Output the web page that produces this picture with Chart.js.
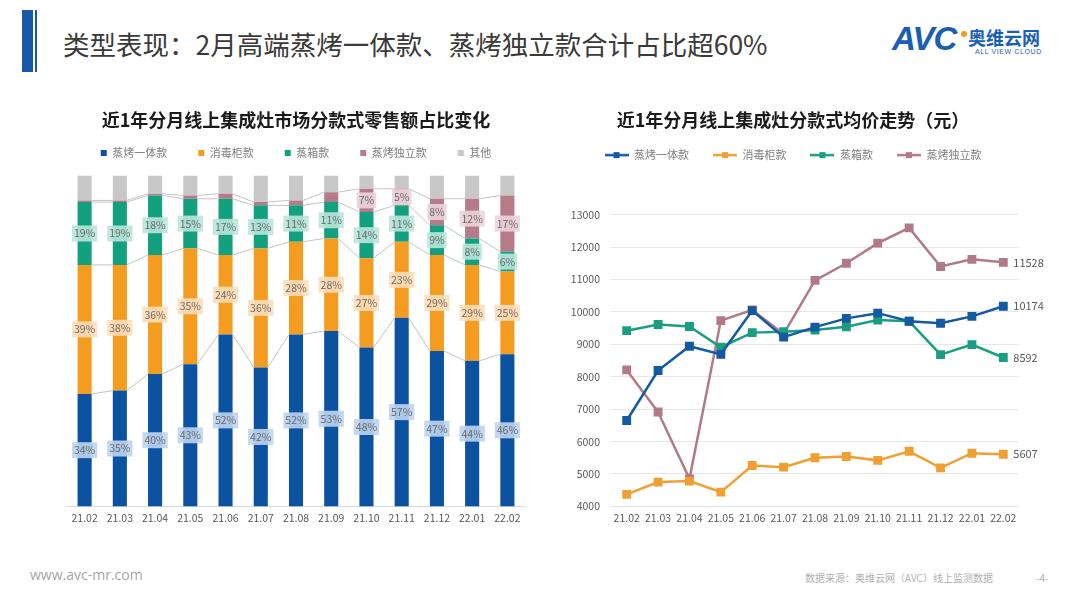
<!DOCTYPE html>
<html>
<head>
<meta charset="utf-8">
<script src="https://cdn.jsdelivr.net/npm/chart.js@4.4.1/dist/chart.umd.min.js"></script>
<style>
body{margin:0;width:1080px;height:608px;background:#fff;position:relative;overflow:hidden;font-family:"Noto Sans CJK SC","Noto Sans",sans-serif;}
.side-bar{position:absolute;left:22px;top:10px;width:11px;height:62px;background:#1759a6;}
.side-line{position:absolute;left:35px;top:10px;width:2px;height:62px;background:#1759a6;}
.page-title{position:absolute;left:63px;top:26px;font-size:26.5px;line-height:36px;color:#3a3a3a;white-space:nowrap;}
.logo{position:absolute;left:892px;top:22px;height:36px;}
.logo .avc{position:absolute;left:0;top:-2px;font-family:"Liberation Sans",sans-serif;font-weight:bold;font-style:italic;font-size:33px;color:#1a5fb4;letter-spacing:-1px;}
.logo .dot{position:absolute;left:69px;top:9px;width:6px;height:6px;border-radius:50%;background:#f29a1e;}
.logo .cn{position:absolute;left:76px;top:2px;font-size:18px;font-weight:bold;color:#1a5fb4;white-space:nowrap;}
.logo .en{position:absolute;left:83px;top:26px;font-size:7px;color:#1a5fb4;white-space:nowrap;letter-spacing:0.6px;font-family:"Liberation Sans",sans-serif;}
.box{position:absolute;}
.footer-l{position:absolute;left:30px;top:565px;font-size:14px;color:#a6a6a6;font-family:"Open Sans",sans-serif;}
.footer-r{position:absolute;left:805px;top:570px;font-size:10px;color:#b0b0b0;white-space:nowrap;}
.footer-p{position:absolute;left:1036px;top:570px;font-size:10px;color:#b0b0b0;}
</style>
</head>
<body>
<div class="side-bar"></div><div class="side-line"></div>
<div class="page-title">类型表现：2月高端蒸烤一体款、蒸烤独立款合计占比超60%</div>
<div class="logo"><span class="avc">AVC</span><span class="dot"></span><span class="cn">奥维云网</span><span class="en">ALL VIEW CLOUD</span></div>

<div class="box" style="left:60px;top:100px;width:480px;height:435px;"><canvas id="shareChart"></canvas></div>
<div class="box" style="left:555px;top:100px;width:495px;height:435px;"><canvas id="priceChart"></canvas></div>

<div class="footer-l">www.avc-mr.com</div>
<div class="footer-r">数据来源：奥维云网（AVC）线上监测数据</div>
<div class="footer-p">-4-</div>

<script>
// 月份
const months = ['21.02','21.03','21.04','21.05','21.06','21.07','21.08','21.09','21.10','21.11','21.12','22.01','22.02'];
const seriesNames = ['蒸烤一体款','消毒柜款','蒸箱款','蒸烤独立款','其他'];

// 零售额占比 (%)
const shareSteamBake = [34,35,40,43,52,42,52,53,48,57,47,44,46];
const shareSterilizer = [39,38,36,35,24,36,28,28,27,23,29,29,25];
const shareSteamer = [19,19,18,15,17,13,11,11,14,11,9,8,6];
const shareIndependent = [0.5,0.5,0.5,1,1.5,1,1.5,3,7,5,8,12,17];
const shareOther = [7.5,7.5,5.5,6,5.5,8,7.5,5,4,4,7,7,6];

// 均价 (元)
const priceSteamBake = [6650,8190,8940,8690,10040,9220,9530,9800,9960,9710,9650,9860,10174];
const priceSterilizer = [4370,4750,4780,4440,5260,5210,5500,5540,5420,5700,5190,5640,5607];
const priceSteamer = [9420,9610,9550,8910,9360,9390,9440,9540,9750,9710,8680,8990,8592];
const priceIndependent = [8210,6910,4850,9730,10060,9320,10970,11500,12120,12590,11400,11620,11528];

const priceTicks = [4000,5000,6000,7000,8000,9000,10000,11000,12000,13000];

const barColors = ['#0b53a1','#f39c1f','#13a07e','#b57b89','#c8c8c8'];
const boxColors = ['rgba(190,212,238,0.9)','rgba(252,222,186,0.9)','rgba(186,229,218,0.9)','rgba(236,212,219,0.9)'];
const lineColors = ['#135aa2','#f0a032','#1a9e82','#b07a86'];

const FONT = '"Noto Sans CJK SC","Noto Sans",sans-serif';
Chart.defaults.font.family = FONT;
Chart.defaults.color = '#595959';

// ==============================================
// 图例下方留白
const legendGap = {
    id: 'legendGap',
    afterInit(chart, args, opts) {
        const legend = chart.legend;
        const fit = legend.fit;
        legend.fit = function () {
            fit.call(legend);
            legend.height += opts.extra || 0;
        };
    }
};

// ==============================================
// 柱子标签 + 系列线
const barLabels = {
    id: 'barLabels',
    afterDatasetsDraw(chart) {
        const ctx = chart.ctx;
        const n = chart.data.datasets.length;
        ctx.save();
        // series lines between bars
        ctx.strokeStyle = '#c4c4c4';
        ctx.lineWidth = 1;
        for (let d = 0; d < n - 1; d++) {
            const meta = chart.getDatasetMeta(d);
            ctx.beginPath();
            for (let i = 0; i < meta.data.length - 1; i++) {
                const a = meta.data[i], b = meta.data[i + 1];
                ctx.moveTo(a.x + a.width / 2, a.y);
                ctx.lineTo(b.x - b.width / 2, b.y);
            }
            ctx.stroke();
        }
        // value labels
        ctx.font = '10.5px ' + FONT;
        ctx.textAlign = 'center';
        ctx.textBaseline = 'middle';
        for (let d = 0; d < n - 1; d++) {
            const meta = chart.getDatasetMeta(d);
            const vals = chart.data.datasets[d].data;
            meta.data.forEach((el, i) => {
                if (vals[i] < 5) return;
                const cy = (el.y + el.base) / 2;
                const txt = vals[i] + '%';
                const w = ctx.measureText(txt).width + 4;
                ctx.fillStyle = boxColors[d];
                ctx.fillRect(el.x - w / 2, cy - 8, w, 16);
                ctx.fillStyle = '#6b6b6b';
                ctx.fillText(txt, el.x, cy);
            });
        }
        ctx.restore();
    }
};

new Chart(document.getElementById('shareChart'), {
    type: 'bar',
    data: {
        labels: months,
        datasets: [shareSteamBake, shareSterilizer, shareSteamer, shareIndependent, shareOther].map((arr, i) => ({
            label: seriesNames[i],
            data: arr,
            backgroundColor: barColors[i],
            borderWidth: 0,
            categoryPercentage: 1,
            barPercentage: 0.4
        }))
    },
    options: {
        responsive: true,
        maintainAspectRatio: false,
        animation: false,
        layout: { padding: { left: 7, right: 15, bottom: 6 } },
        scales: {
            x: {
                stacked: true,
                grid: { display: false, drawTicks: false },
                border: { color: '#d9d9d9' },
                ticks: { color: '#595959', font: { size: 10.5 }, autoSkip: false, maxRotation: 0, padding: 5 }
            },
            y: { stacked: true, display: false, min: 0, max: 100 }
        },
        plugins: {
            title: {
                display: true,
                text: '近1年分月线上集成灶市场分款式零售额占比变化',
                color: '#1a1a1a',
                font: { size: 18, weight: 'bold' },
                padding: { top: 9, bottom: -14 }
            },
            legend: {
                display: true,
                labels: { boxWidth: 6, boxHeight: 6, color: '#7f7f7f', font: { size: 11 }, padding: 31 }
            },
            legendGap: { extra: 7 },
            tooltip: { enabled: false }
        }
    },
    plugins: [barLabels, legendGap]
});

// ==============================================
// 折线末端数值
const endLabels = {
    id: 'endLabels',
    afterDatasetsDraw(chart) {
        const ctx = chart.ctx;
        ctx.save();
        ctx.font = '11px ' + FONT;
        ctx.fillStyle = '#595959';
        ctx.textAlign = 'left';
        ctx.textBaseline = 'middle';
        chart.data.datasets.forEach((ds, d) => {
            const meta = chart.getDatasetMeta(d);
            const last = meta.data[meta.data.length - 1];
            ctx.fillText(String(ds.data[ds.data.length - 1]), last.x + 10, last.y);
        });
        ctx.restore();
    }
};

function legendIcon(color) {
    const c = document.createElement('canvas');
    c.width = 24; c.height = 8;
    const g = c.getContext('2d');
    g.strokeStyle = color; g.lineWidth = 2.5;
    g.beginPath(); g.moveTo(0, 4); g.lineTo(24, 4); g.stroke();
    g.fillStyle = color; g.fillRect(9, 1, 6, 6);
    return c;
}
const icons = lineColors.map(legendIcon);

new Chart(document.getElementById('priceChart'), {
    type: 'line',
    data: {
        labels: months,
        datasets: [priceSteamBake, priceSterilizer, priceSteamer, priceIndependent].map((arr, i) => ({
            label: seriesNames[i],
            data: arr,
            borderColor: lineColors[i],
            backgroundColor: lineColors[i],
            borderWidth: 2.5,
            pointStyle: 'rect',
            pointRadius: 4.5,
            tension: 0
        }))
    },
    options: {
        responsive: true,
        maintainAspectRatio: false,
        animation: false,
        layout: { padding: { left: 12, right: 31, bottom: 6 } },
        scales: {
            x: {
                offset: true,
                grid: { display: false, drawTicks: false },
                border: { display: false },
                ticks: { color: '#595959', font: { size: 10.5 }, autoSkip: false, maxRotation: 0, padding: 5 }
            },
            y: {
                min: 4000,
                max: 13000,
                afterBuildTicks: axis => { axis.ticks = priceTicks.map(v => ({ value: v })); },
                afterFit: axis => { axis.width = 44; },
                grid: { color: '#e6e6e6', drawTicks: false },
                border: { display: false },
                ticks: { color: '#595959', font: { size: 10.5 }, padding: 11, callback: v => String(v) }
            }
        },
        plugins: {
            title: {
                display: true,
                text: '近1年分月线上集成灶分款式均价走势（元）',
                color: '#1a1a1a',
                font: { size: 18, weight: 'bold' },
                padding: { top: 9, bottom: -5 }
            },
            legend: {
                display: true,
                labels: {
                    usePointStyle: true,
                    pointStyleWidth: 24,
                    color: '#7f7f7f',
                    font: { size: 11 },
                    padding: 24,
                    generateLabels: chart => Chart.defaults.plugins.legend.labels.generateLabels(chart)
                        .map((item, i) => Object.assign(item, { pointStyle: icons[i] }))
                }
            },
            legendGap: { extra: 44 },
            tooltip: { enabled: false }
        }
    },
    plugins: [endLabels, legendGap]
});
</script>
</body>
</html>
